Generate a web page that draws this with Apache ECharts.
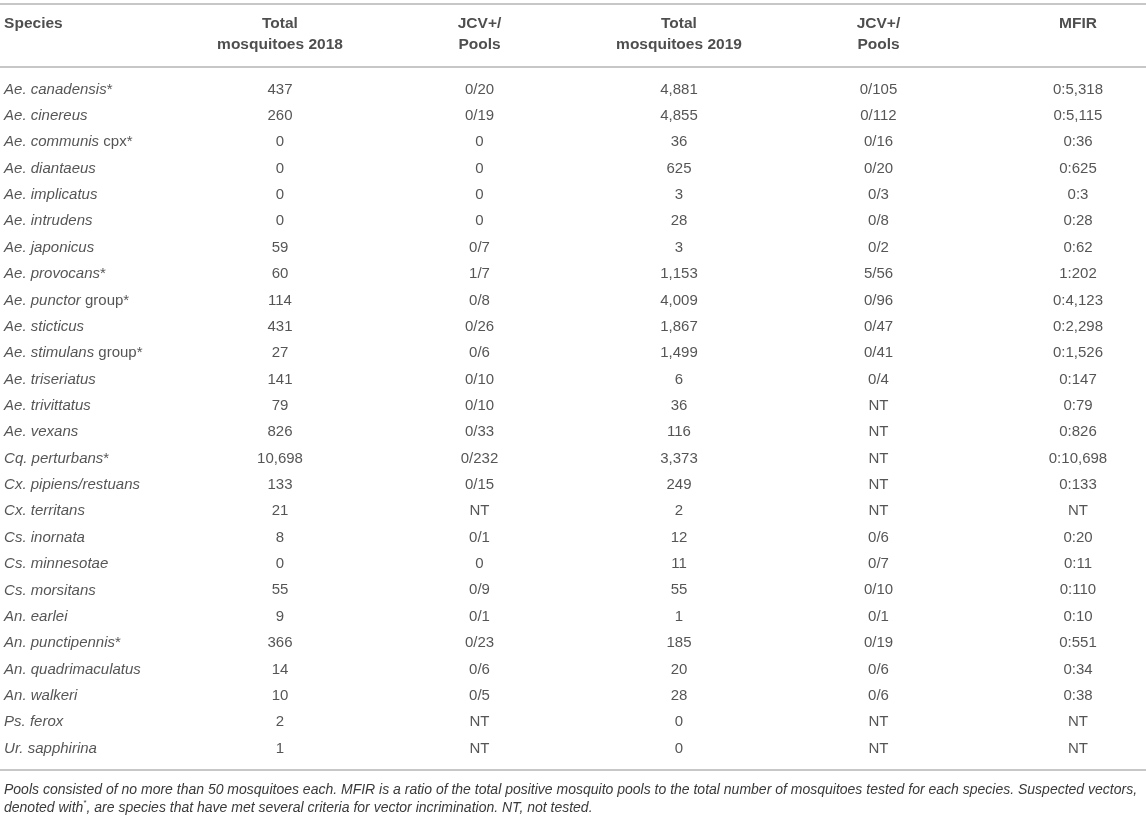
<!DOCTYPE html>
<html>
<head>
<meta charset="utf-8">
<title>Mosquito species tested for JCV, 2018-2019</title>
<script src="https://cdn.jsdelivr.net/npm/echarts@6/dist/echarts.min.js"></script>
<style>
    html, body { margin: 0; padding: 0; background: #fff; }
    #chart { width: 1146px; height: 819px; }
</style>
</head>
<body>
<div id="chart"></div>
<script>
// Table content, one array per column
const speciesNames = [
    'Ae. canadensis', 'Ae. cinereus', 'Ae. communis', 'Ae. diantaeus', 'Ae. implicatus',
    'Ae. intrudens', 'Ae. japonicus', 'Ae. provocans', 'Ae. punctor', 'Ae. sticticus',
    'Ae. stimulans', 'Ae. triseriatus', 'Ae. trivittatus', 'Ae. vexans', 'Cq. perturbans',
    'Cx. pipiens/restuans', 'Cx. territans', 'Cs. inornata', 'Cs. minnesotae', 'Cs. morsitans',
    'An. earlei', 'An. punctipennis', 'An. quadrimaculatus', 'An. walkeri', 'Ps. ferox',
    'Ur. sapphirina'
];
// upright text after the italic name
const speciesSuffix = [
    '*', '', ' cpx*', '', '', '', '', '*', ' group*', '',
    ' group*', '', '', '', '*', '', '', '', '', '',
    '', '*', '', '', '', ''
];
const total2018 = [437, 260, 0, 0, 0, 0, 59, 60, 114, 431, 27, 141, 79, 826, 10698, 133, 21, 8, 0, 55, 9, 366, 14, 10, 2, 1];
const pools2018 = ['0/20', '0/19', '0', '0', '0', '0', '0/7', '1/7', '0/8', '0/26', '0/6', '0/10', '0/10', '0/33', '0/232', '0/15', 'NT', '0/1', '0', '0/9', '0/1', '0/23', '0/6', '0/5', 'NT', 'NT'];
const total2019 = [4881, 4855, 36, 625, 3, 28, 3, 1153, 4009, 1867, 1499, 6, 36, 116, 3373, 249, 2, 12, 11, 55, 1, 185, 20, 28, 0, 0];
const pools2019 = ['0/105', '0/112', '0/16', '0/20', '0/3', '0/8', '0/2', '5/56', '0/96', '0/47', '0/41', '0/4', 'NT', 'NT', 'NT', 'NT', 'NT', '0/6', '0/7', '0/10', '0/1', '0/19', '0/6', '0/6', 'NT', 'NT'];
const mfir = ['0:5,318', '0:5,115', '0:36', '0:625', '0:3', '0:28', '0:62', '1:202', '0:4,123', '0:2,298', '0:1,526', '0:147', '0:79', '0:826', '0:10,698', '0:133', 'NT', '0:20', '0:11', '0:110', '0:10', '0:551', '0:34', '0:38', 'NT', 'NT'];
const headers = ['Species', 'Total\nmosquitoes 2018', 'JCV+/\nPools', 'Total\nmosquitoes 2019', 'JCV+/\nPools', 'MFIR'];
const footLine1 = 'Pools consisted of no more than 50 mosquitoes each. MFIR is a ratio of the total positive mosquito pools to the total number of mosquitoes tested for each species. Suspected vectors,';
const footLine2a = 'denoted with';
const footLine2b = ', are species that have met several criteria for vector incrimination. NT, not tested.';

// Layout in axis units: x = column index, y = row index
const SPECIES_X = -0.383;
const HEADER_TOP_Y = -2.485;   // first header line, all columns
const HEADER_LINE = 21;        // px between header lines
const RULES_Y = [-3.24, -0.87, 25.8];

const FONT = '"Liberation Sans", Arial, Helvetica, sans-serif';
const TEXT_COLOR = '#2b2b2b';

function fmt(n) {
    return n.toLocaleString('en-US');
}

function initTable() {
    const chart = echarts.init(document.getElementById('chart'));

    const columns = [
        total2018.map(fmt),
        pools2018,
        total2019.map(fmt),
        pools2019,
        mfir
    ];

    // points only carry the text, the marker itself is not drawn
    const hidden = { color: 'transparent' };

    const speciesSeries = {
        type: 'scatter',
        symbolSize: 1,
        itemStyle: hidden,
        silent: true,
        data: speciesNames.map((name, i) => ({
            value: [SPECIES_X, i],
            name: name,
            suffix: speciesSuffix[i]
        })),
        label: {
            show: true,
            position: 'inside',
            align: 'left',
            verticalAlign: 'middle',
            formatter: function(p) {
                let s = '{i|' + p.data.name + '}';
                if (p.data.suffix) s += '{n|' + p.data.suffix + '}';
                return s;
            },
            rich: {
                i: { fontStyle: 'italic', fontSize: 15, fontFamily: FONT, color: TEXT_COLOR },
                n: { fontSize: 15, fontFamily: FONT, color: TEXT_COLOR }
            }
        },
        markLine: {
            silent: true,
            symbol: 'none',
            label: { show: false },
            lineStyle: { color: '#b4b4b4', width: 1.5, type: 'solid' },
            data: RULES_Y.map(y => ({ yAxis: y }))
        }
    };

    const valueSeries = columns.map((col, c) => ({
        type: 'scatter',
        symbolSize: 1,
        itemStyle: hidden,
        silent: true,
        data: col.map((txt, i) => [c + 1, i, txt]),
        label: {
            show: true,
            position: 'inside',
            align: 'center',
            verticalAlign: 'middle',
            fontSize: 15,
            fontFamily: FONT,
            color: TEXT_COLOR,
            formatter: p => p.value[2]
        }
    }));

    // header text hangs from its first line
    const headerSeries = {
        type: 'scatter',
        symbolSize: 1,
        itemStyle: hidden,
        silent: true,
        data: headers.map((h, c) => ({
            value: [c === 0 ? SPECIES_X : c, HEADER_TOP_Y, h],
            label: { align: c === 0 ? 'left' : 'center' }
        })),
        label: {
            show: true,
            position: 'inside',
            verticalAlign: 'top',
            offset: [0, -HEADER_LINE / 2],
            fontSize: 15.5,
            fontWeight: 'bold',
            lineHeight: HEADER_LINE,
            fontFamily: FONT,
            color: '#222',
            formatter: p => p.value[2]
        }
    };

    const option = {
        animation: false,
        backgroundColor: '#fff',
        title: {
            left: 4,
            top: 781,
            padding: 0,
            text: '{a|' + footLine1 + '}\n{a|' + footLine2a + '}{s|*}{a|' + footLine2b + '}',
            textStyle: {
                fontWeight: 'normal',
                rich: {
                    a: { fontStyle: 'italic', fontWeight: 'normal', fontSize: 14, lineHeight: 18, fontFamily: FONT, color: '#3a3a3a' },
                    s: { fontWeight: 'normal', fontSize: 8, lineHeight: 18, verticalAlign: 'top', fontFamily: FONT, color: '#3a3a3a', padding: [0, 0, 6, 0] }
                }
            }
        },
        grid: { left: 0, right: 0, top: 0, bottom: 0 },
        xAxis: {
            type: 'value',
            min: -0.4035,
            max: 5.341,
            show: false
        },
        yAxis: {
            type: 'value',
            inverse: true,
            min: -3.395,
            max: 27.675,
            show: false
        },
        series: [speciesSeries, headerSeries].concat(valueSeries)
    };

    chart.setOption(option);
}

document.addEventListener('DOMContentLoaded', initTable);
</script>
</body>
</html>
